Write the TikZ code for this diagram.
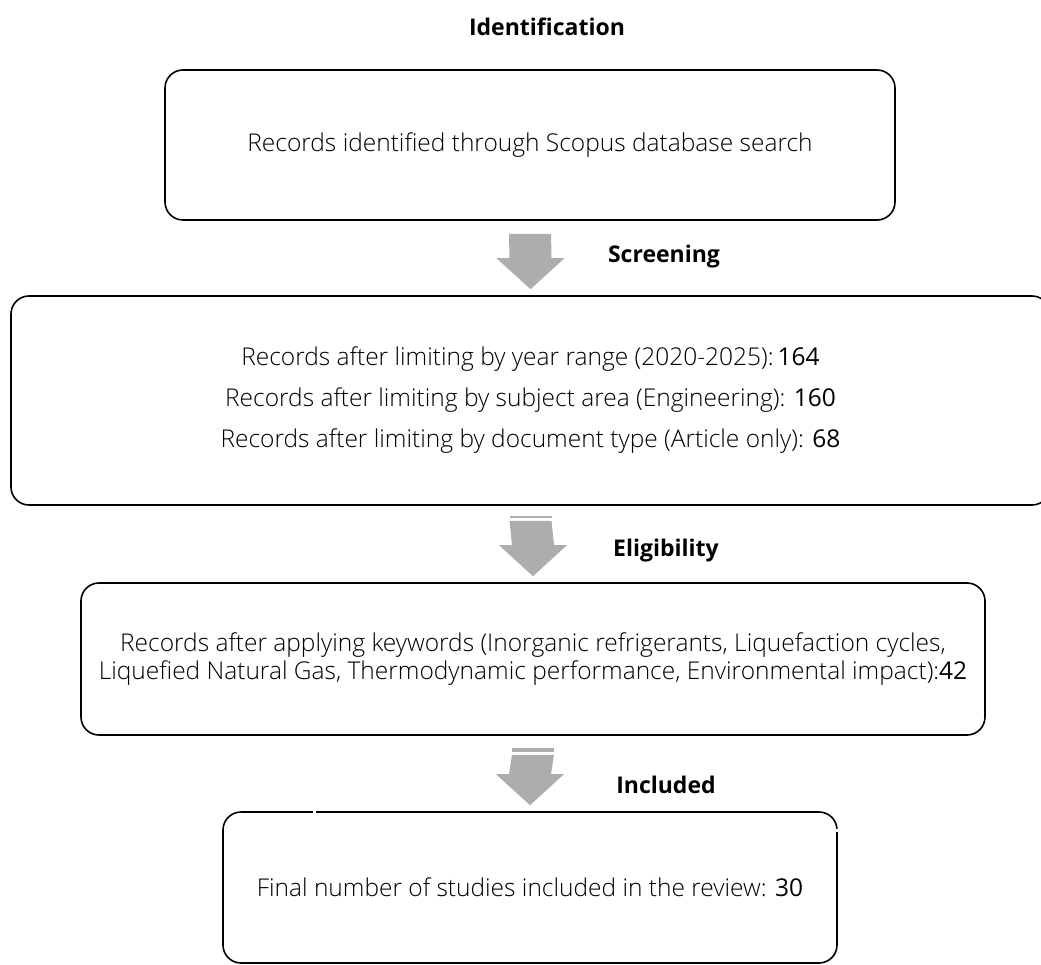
\documentclass[tikz,border=0pt]{standalone}
\usepackage{fontspec}
\setmainfont{Open Sans}
\newfontfamily\lightfont{Open Sans Light}
\usetikzlibrary{positioning,calc}

\definecolor{arrowgray}{HTML}{ADADAD}

% block arrow from the bottom of one box to the top of the next
\newcommand{\blockarrow}[3]{%
  \fill[arrowgray] ($(#1.south)+(-21,#3)$) -- ($(#1.south)+(21,#3)$)
    -- ($(#2.north)+(21,-37)$) -- ($(#2.north)+(34,-37)$)
    -- ($(#2.north)+(0,-6)$) -- ($(#2.north)+(-34,-37)$)
    -- ($(#2.north)+(-21,-37)$) -- cycle;
}

\begin{document}
\begin{tikzpicture}[x=1pt,y=-1pt,
    stage/.style={draw, line width=1.6pt, rounded corners=18pt, align=center,
      inner sep=0pt, font=\lightfont\fontsize{24.5}{28}\selectfont},
    phase/.style={font=\bfseries\fontsize{23}{28}\selectfont}]

    \useasboundingbox (0,0) rectangle (1041,965);
    \clip (0,0) rectangle (1041,965);

    \node [phase] (ident) at (547,27) {Identification};
    \node [stage, minimum width=730pt, minimum height=150pt] (scopus) at (530,145)
      {Records identified through Scopus database search};

    \node [phase] (screen) at (664,257) {Screening};
    \node [stage, minimum width=1039pt, minimum height=209pt,
      font=\lightfont\fontsize{24.5}{41}\selectfont] (limits) at (530.5,400.5)
      {Records after limiting by year range (2020-2025):\,{\normalfont 164}\\
       Records after limiting by subject area (Engineering): {\normalfont 160}\\
       Records after limiting by document type (Article only): {\normalfont 68}};

    \node [phase] (elig) at (666,551) {Eligibility};
    \node [stage, minimum width=904pt, minimum height=152pt] (keywords) at (533,659)
      {Records after applying keywords (Inorganic refrigerants, Liquefaction cycles,\\
       Liquefied Natural Gas, Thermodynamic performance, Environmental impact):{\normalfont 42}};

    \node [phase] (incl) at (666,785) {Included};
    \node [stage, minimum width=614pt, minimum height=151pt] (final) at (530,887.5)
      {Final number of studies included in the review: {\normalfont 30}};

    % arrows between the stages
    \blockarrow{scopus}{limits}{13}
    \fill[arrowgray] ($(limits.south)+(-21,10)$) rectangle ($(limits.south)+(21,12.5)$);
    \blockarrow{limits}{keywords}{15}
    \fill[arrowgray] ($(keywords.south)+(-21,12)$) rectangle ($(keywords.south)+(21,16)$);
    \blockarrow{keywords}{final}{19}

    % small breaks in the last frame
    \fill[white] ($(final.north west)+(91,-2)$) rectangle ($(final.north west)+(94,2)$);
    \fill[white] ($(final.north east)+(-2,18)$) rectangle ($(final.north east)+(2,21)$);

\end{tikzpicture}
\end{document}
